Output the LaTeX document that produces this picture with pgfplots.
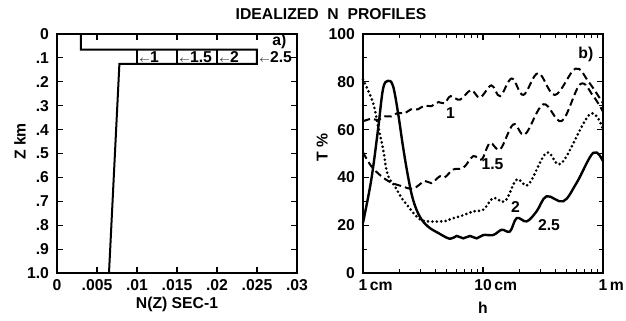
\documentclass[border=0pt]{standalone}
\usepackage{fontspec}
\setmainfont{Liberation Sans}
\usepackage{pgfplots}
\pgfplotsset{compat=1.18}

\pgfplotsset{
  panel/.style={
    scale only axis, anchor=south west,
    width=180pt, height=179.25pt,
    tick align=inside,
    major tick length=4.5pt, minor tick length=3pt,
    axis line style={line width=0.9pt},
    every tick/.style={black, line width=0.8pt},
    font=\fontsize{11.8}{13}\selectfont\bfseries,
    /pgf/number format/assume math mode=true,
    yticklabel style={xshift=-2.5pt},
    xticklabel style={yshift=-1.5pt},
    clip=false,
  },
  tprof/.style={black, line width=1.5pt, line join=miter},
}

\begin{document}
\begin{tikzpicture}[x=0.75pt,y=0.75pt]
\path[use as bounding box] (0,0) rectangle (626,321);

\node[font=\fontsize{11.8}{13}\selectfont\bfseries] at (331,307) {IDEALIZED\ \ N\ \ PROFILES};

% (a) buoyancy frequency profiles
\begin{axis}[panel, at={(42.75pt,36pt)},
  xmin=0, xmax=0.03, ymin=0, ymax=1, y dir=reverse,
  scaled x ticks=false,
  xtick={0,0.005,0.01,0.015,0.02,0.025,0.03},
  xticklabels={0,.005,.01,.015,.02,.025,.03},
  ytick={0,0.1,0.2,0.3,0.4,0.5,0.6,0.7,0.8,0.9,1},
  yticklabels={0,.1,.2,.3,.4,.5,.6,.7,.8,.9,1.0},
  xlabel={N(Z) SEC-1}, ylabel={Z km},
  xlabel style={at={(axis description cs:0.5,-0.13)}, anchor=center},
  ylabel style={at={(axis description cs:-0.155,0.55)}, anchor=center},
]
\addplot[tprof] coordinates {(0.003,0) (0.003,0.065) (0.025,0.065) (0.025,0.125) (0.0078,0.125) (0.0065,1.0)};
\addplot[tprof] coordinates {(0.01,0.065) (0.01,0.125)};
\addplot[tprof] coordinates {(0.015,0.065) (0.015,0.125)};
\addplot[tprof] coordinates {(0.02,0.065) (0.02,0.125)};
\node[anchor=west, inner sep=1pt] at (axis cs:0.0101,0.095) {{\scriptsize$\leftarrow$}1};
\node[anchor=west, inner sep=1pt] at (axis cs:0.0151,0.095) {{\scriptsize$\leftarrow$}1.5};
\node[anchor=west, inner sep=1pt] at (axis cs:0.0201,0.095) {{\scriptsize$\leftarrow$}2};
\node[anchor=west, inner sep=1pt] at (axis cs:0.0251,0.095) {{\scriptsize$\leftarrow$}2.5};
\node at (axis cs:0.0278,0.03) {a)};
\end{axis}

% (b) transmission versus wave height
\begin{axis}[panel, at={(272.25pt,36pt)},
  xmode=log, xmin=1, xmax=100, ymin=0, ymax=100,
  xtick={1,10,100},
  xticklabels={1\rlap{\,cm},10\rlap{\,cm},1\rlap{\,m}},
  ytick={0,20,40,60,80,100},
  minor ytick={10,30,50,70,90},
  xlabel={h}, ylabel={T \%},
  xlabel style={at={(axis description cs:0.5,-0.145)}, anchor=center},
  ylabel style={at={(axis description cs:-0.17,0.527)}, anchor=center},
]
% N max = 0.01
\addplot[black, line width=1.5pt, dash pattern=on 5.5pt off 3pt, smooth, tension=0.6] coordinates {
(1,63.5) (1.175,64.5) (1.334,64) (1.514,65.5) (1.722,65.5) (1.950,67) (2.223,66.8)
(2.512,68.5) (2.871,68.5) (3.236,70) (3.707,69.8) (4.266,71.5) (4.786,71) (5.370,74)
(6.427,72.5) (7.943,76.5) (9.441,73.4) (11.75,78.5) (13.87,74) (17.38,81.4) (21.68,74.5)
(28.84,83.6) (39.81,74.5) (58.88,85.5) (75.86,80) (100,71)};
% N max = 0.015
\addplot[black, line width=1.5pt, dash pattern=on 5.5pt off 3pt, smooth, tension=0.6] coordinates {
(1,50.5) (1.172,44.7) (1.422,40.5) (1.722,37.8) (2.089,36.4) (2.612,35.3) (3.266,38.5)
(3.707,37.6) (4.385,40.5) (4.797,40.0) (5.662,43.3) (6.855,44) (8.299,48.9) (9.750,47.5)
(11.43,54.4) (13.87,51.7) (17.91,62.2) (22.39,58) (31.84,70.6) (45.29,63.6) (64.57,79)
(82.99,74) (100,67.5)};
% N max = 0.02
\addplot[black, line width=2.2pt, line cap=round, dash pattern=on 0pt off 3.3pt, smooth, tension=0.6] coordinates {
(1,81) (1.211,71.3) (1.334,61.5) (1.469,52) (1.563,43.5) (1.667,39.2) (1.837,36.4)
(2.089,31.5) (2.371,28) (2.780,23.8) (3.266,21.7) (4.797,21.7) (5.309,22.5) (6.855,24.2)
(8.299,25.8) (10.07,26.5) (12.19,31.4) (15.24,30) (19.10,39.1) (23.88,37) (33.88,50.3)
(45.19,46) (77.62,66.4) (100,60)};
% N max = 0.025
\addplot[black, line width=1.8pt, smooth, tension=0.6] coordinates {
(1,21) (1.172,39) (1.334,60) (1.469,77) (1.614,80.4) (1.778,78.3) (1.959,67) (2.153,53)
(2.371,40.5) (2.612,30.7) (2.965,23.7) (3.467,19.5) (4.217,16.8) (5.309,14.3) (6.039,15.5)
(6.855,14.5) (7.798,15.5) (8.851,14.5) (10.07,15.9) (12.19,15.9) (14.32,18.1) (16.79,17.4)
(19.10,23) (23.12,21.6) (27.99,25.8) (33.88,32.1) (46.67,30) (60.26,37.7) (82.99,50.3)
(100,46.8)};
\node at (axis cs:5.37,67) {1};
\node at (axis cs:12,45.4) {1.5};
\node at (axis cs:18.7,27.5) {2};
\node at (axis cs:35.5,20) {2.5};
\node at (axis cs:72,91.6) {b)};
\end{axis}
\end{tikzpicture}
\end{document}
